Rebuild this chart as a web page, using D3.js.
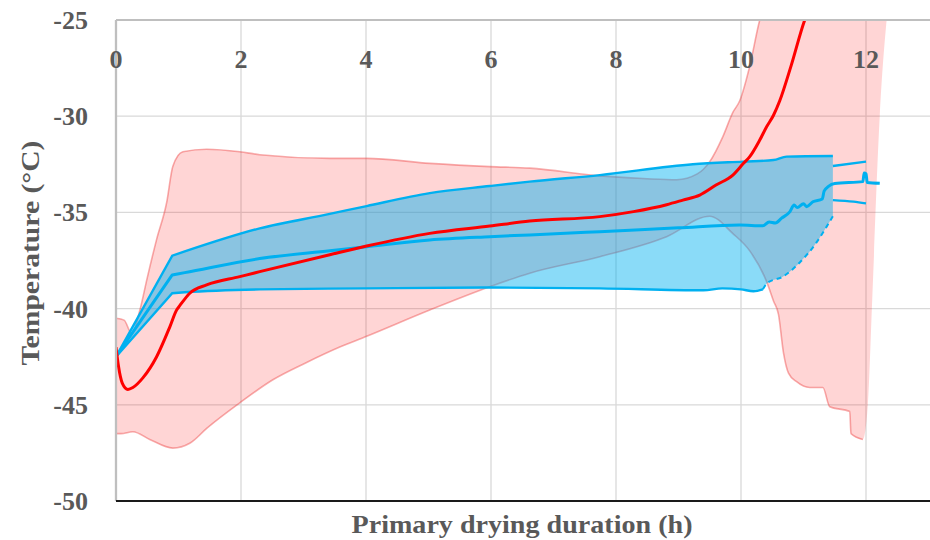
<!DOCTYPE html>
<html>
<head>
<meta charset="utf-8">
<script src="https://cdn.jsdelivr.net/npm/d3@7"></script>
<style>
  html, body { margin: 0; padding: 0; background: #fff; }
  svg { display: block; }
  text { font-family: "Liberation Serif", "Times New Roman", serif; font-weight: bold; fill: #595959; }
</style>
</head>
<body>
<svg id="chart" width="930" height="540"></svg>
<script>
// Product temperature during primary drying: mean with min/max envelope
// [time (h), temperature (°C)]

// Red series: mean curve
const redMean = [
  [0, -42.0], [0.04, -43.0], [0.1, -43.87], [0.19, -44.2], [0.27, -44.1], [0.43, -43.6],
  [0.65, -42.5], [0.86, -40.96], [0.97, -40.07], [1.02, -39.85], [1.18, -39.2], [1.45, -38.77],
  [1.98, -38.34], [2.3, -38.08], [3.42, -37.2], [4.01, -36.75], [5.02, -36.09], [5.98, -35.71],
  [6.62, -35.45], [7.74, -35.22], [8.28, -34.96], [8.81, -34.6], [9.07, -34.36], [9.34, -34.1],
  [9.6, -33.58], [9.87, -33.06], [10.04, -32.45], [10.14, -32.1], [10.3, -31.24], [10.41, -30.55],
  [10.52, -29.95], [10.62, -29.2], [10.8, -27.4], [11.02, -25.0], [11.12, -24.2]
];
// Red series: envelope edges
const redUpper = [
  [0, -40.5], [0.13, -40.6], [0.25, -41.3], [0.38, -40.1], [0.5, -38.4], [0.65, -36.4],
  [0.81, -34.5], [0.91, -32.6], [1.07, -31.85], [1.45, -31.72], [1.98, -31.85], [2.3, -32.0],
  [3.42, -32.19], [4.01, -32.19], [5.02, -32.45], [5.98, -32.62], [6.62, -32.7], [7.74, -33.1],
  [8.5, -33.25], [8.97, -33.3], [9.3, -33.0], [9.5, -32.36], [9.71, -31.06], [9.87, -29.8],
  [9.98, -29.2], [10.14, -27.4], [10.3, -25.0], [10.4, -24.0], [12.36, -24.0]
];
const redLower = [
  [0, -46.5], [0.08, -46.5], [0.27, -46.4], [0.54, -46.8], [0.91, -47.25], [1.18, -47.0],
  [1.46, -46.2], [1.98, -44.9], [2.51, -43.7], [3.05, -42.8], [3.58, -42.0], [4.0, -41.45],
  [5.02, -40.07], [5.98, -38.86], [6.62, -38.16], [7.74, -37.3], [8.81, -36.26], [9.5, -35.2],
  [9.87, -36.1], [10.14, -37.0], [10.41, -38.6], [10.52, -39.6], [10.6, -40.3], [10.68, -42.3],
  [10.76, -43.35], [10.89, -43.8], [11.1, -44.1], [11.31, -44.1], [11.42, -45.1], [11.74, -45.35],
  [11.76, -46.5], [11.95, -46.8], [12.03, -45.0], [12.1, -39.5], [12.22, -30.0], [12.33, -25.0],
  [12.36, -24.0]
];

// Blue series: mean curve
const blueMean = [
  [0, -42.5], [0.9, -38.25], [1.1, -38.13], [2.3, -37.4], [3.42, -36.99], [4.01, -36.78], [5.02, -36.43],
  [5.98, -36.26], [6.62, -36.17], [7.74, -36.0], [9.0, -35.8], [9.98, -35.65], [10.35, -35.7],
  [10.45, -35.5], [10.55, -35.55], [10.65, -35.3], [10.78, -34.97], [10.85, -34.62], [10.9, -34.75],
  [11.0, -34.55], [11.05, -34.7], [11.15, -34.45], [11.3, -34.3], [11.33, -33.9], [11.4, -33.65],
  [11.5, -33.5], [11.95, -33.4], [11.97, -32.95], [12.0, -33.0], [12.02, -33.45], [12.22, -33.49]
];
// Blue series: envelope edges
const blueUpper = [
  [0, -42.5], [0.9, -37.25], [1.1, -37.03], [2.3, -35.83], [3.42, -35.08], [4.01, -34.67], [5.02, -34.0],
  [5.98, -33.63], [6.62, -33.4], [7.74, -33.06], [9.23, -32.5], [10.03, -32.36], [10.52, -32.28],
  [10.73, -32.1], [11.47, -32.07]
];
const blueLower = [
  [0, -42.5], [0.9, -39.2], [1.1, -39.15], [2.3, -39.0], [4.0, -38.95], [6.0, -38.9], [7.74, -38.95],
  [9.4, -39.05], [9.7, -38.95], [10.0, -39.0], [10.2, -39.1], [10.35, -39.0], [10.42, -38.67],
  [10.67, -38.34], [10.94, -37.6], [11.2, -36.6], [11.37, -35.74], [11.47, -35.2]
];
// Blue series: trailing envelope edges after the fill ends
const blueTailUpper = [[11.47, -32.59], [12.0, -32.36]];
const blueTailLower = [[11.47, -34.36], [11.8, -34.44], [12.0, -34.53]];

// Axes
const xTicks = [0, 2, 4, 6, 8, 10, 12];
const yTicks = [-50, -45, -40, -35, -30, -25];
const xTitle = "Primary drying duration (h)";
const yTitle = "Temperature (°C)";

const svg = d3.select("#chart");
const M = { left: 116, top: 20, right: 930, bottom: 501 };

const x = d3.scaleLinear().domain([0, 13]).range([M.left, M.left + 13 * 62.5]);
const y = d3.scaleLinear().domain([-50, -25]).range([M.bottom, M.top]);

svg.append("defs").append("clipPath").attr("id", "plotClip")
  .append("rect")
  .attr("x", M.left).attr("y", M.top)
  .attr("width", M.right - M.left).attr("height", M.bottom - M.top);

// Grid
const grid = svg.append("g");
grid.selectAll("line.v").data(xTicks.filter(d => d > 0)).join("line")
  .attr("x1", d => x(d)).attr("x2", d => x(d))
  .attr("y1", M.top).attr("y2", M.bottom)
  .attr("stroke", "#d9d9d9").attr("stroke-width", 1.3);
grid.selectAll("line.h").data(yTicks.filter(d => d > -50 && d < -25)).join("line")
  .attr("x1", M.left).attr("x2", M.right)
  .attr("y1", d => y(d)).attr("y2", d => y(d))
  .attr("stroke", "#d9d9d9").attr("stroke-width", 1.3);

const plot = svg.append("g").attr("clip-path", "url(#plotClip)");

const line = d3.line().x(d => x(d[0])).y(d => y(d[1]));
const smooth = d3.line().x(d => x(d[0])).y(d => y(d[1])).curve(d3.curveMonotoneX);

// Blue curves: straight ramp over the first interval, smooth afterwards
function ramped(arr) {
  return line(arr.slice(0, 2)) + smooth(arr.slice(1)).replace(/^M/, "L");
}
function rampedBack(arr) {
  const r = arr.slice().reverse();
  const n = r.length;
  return smooth(r.slice(0, n - 1)) + line(r.slice(n - 2)).replace(/^M/, "L");
}

// Closed envelope: upper edge forward, lower edge walked backwards
function band(upperPath, lowerBackPath) {
  return upperPath + lowerBackPath.replace(/^M/, "L") + "Z";
}

// Red envelope fill and edges
plot.append("path")
  .attr("d", band(smooth(redUpper), smooth(redLower.slice().reverse())))
  .attr("fill", "rgb(255,0,0)").attr("fill-opacity", 0.165);
plot.append("path").attr("d", smooth(redUpper))
  .attr("fill", "none").attr("stroke", "rgba(235,60,60,0.42)").attr("stroke-width", 1.6);
plot.append("path").attr("d", smooth(redLower.filter(d => d[0] <= 11.95)))
  .attr("fill", "none").attr("stroke", "rgba(235,60,60,0.42)").attr("stroke-width", 1.6);

// Blue envelope fill, laid over the red one
plot.append("path")
  .attr("d", band(ramped(blueUpper), rampedBack(blueLower)))
  .attr("fill", "rgb(0,176,240)").attr("fill-opacity", 0.46);

// Blue envelope edges
const blueEdge = "#00b0f0";
[ramped(blueUpper), ramped(blueLower.filter(d => d[0] <= 10.35)),
 smooth(blueTailUpper), smooth(blueTailLower)].forEach(p => {
  plot.append("path").attr("d", p)
    .attr("fill", "none").attr("stroke", blueEdge).attr("stroke-width", 2.4);
});
plot.append("path").attr("d", smooth(blueLower.filter(d => d[0] >= 10.35)))
  .attr("fill", "none").attr("stroke", blueEdge).attr("stroke-width", 2)
  .attr("stroke-dasharray", "5,4");

// Blue mean
plot.append("path").attr("d", ramped(blueMean))
  .attr("fill", "none").attr("stroke", blueEdge).attr("stroke-width", 3)
  .attr("stroke-linejoin", "round");

// Red mean
plot.append("path").attr("d", smooth(redMean))
  .attr("fill", "none").attr("stroke", "#ff0000").attr("stroke-width", 3)
  .attr("stroke-linejoin", "round");

// Frame: top and left grey, bottom dark
svg.append("line").attr("x1", M.left).attr("x2", M.right).attr("y1", M.top).attr("y2", M.top)
  .attr("stroke", "#bfbfbf").attr("stroke-width", 2);
svg.append("line").attr("x1", M.left).attr("x2", M.left).attr("y1", M.top).attr("y2", M.bottom)
  .attr("stroke", "#bfbfbf").attr("stroke-width", 2.3);
svg.append("line").attr("x1", M.left).attr("x2", M.right).attr("y1", M.bottom).attr("y2", M.bottom)
  .attr("stroke", "#1a1a1a").attr("stroke-width", 2);

// Tick labels
svg.append("g").selectAll("text").data(xTicks).join("text")
  .attr("x", d => x(d)).attr("y", 68)
  .attr("text-anchor", "middle").attr("font-size", 26)
  .text(d => d);
svg.append("g").selectAll("text").data(yTicks).join("text")
  .attr("x", 88).attr("y", d => y(d) + 9)
  .attr("text-anchor", "end").attr("font-size", 26)
  .text(d => String(d));

// Axis titles
svg.append("text").attr("x", 522).attr("y", 533)
  .attr("text-anchor", "middle").attr("font-size", 26)
  .attr("textLength", 341).attr("lengthAdjust", "spacingAndGlyphs")
  .text(xTitle);
svg.append("text")
  .attr("transform", "translate(39,253) rotate(-90)")
  .attr("text-anchor", "middle").attr("font-size", 26)
  .attr("textLength", 225).attr("lengthAdjust", "spacingAndGlyphs")
  .text(yTitle);
</script>
</body>
</html>
